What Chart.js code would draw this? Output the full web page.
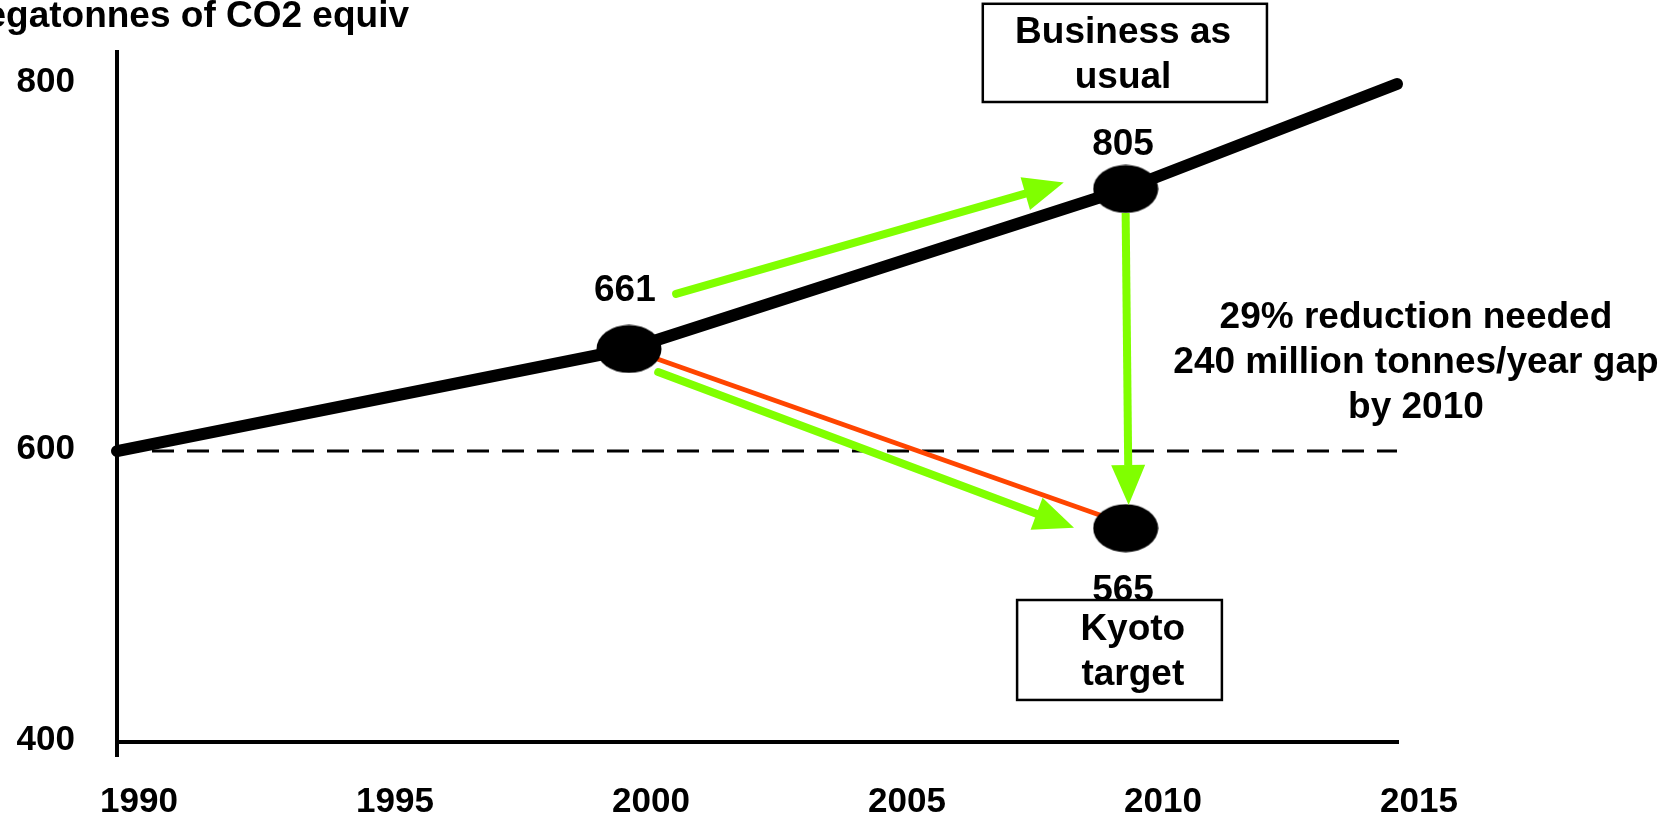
<!DOCTYPE html>
<html>
<head>
<meta charset="utf-8">
<script src="https://cdn.jsdelivr.net/npm/chart.js@4"></script>
<style>
  html, body { margin: 0; padding: 0; background: #fff; }
  #wrap { width: 1664px; height: 815px; position: relative; }
</style>
</head>
<body>
<div id="wrap"><canvas id="chart1"></canvas></div>
<script>
// values (x = year, y = megatonnes on the drawn axis)
var bauYears = [1990, 2000, 2009.7, 2015];
var bauValues = [600, 655.6, 742.8, 800];
var refYears = [1990, 2015];
var refValues = [600, 600];
var dotYears = [2000, 2009.7, 2009.7];
var dotValues = [655.6, 742.8, 547];
var kyotoYears = [2000, 2009.47];
var kyotoValues = [655.6, 552.6];
// green arrows: start point and base of the head
var upArrowYears = [2000.92, 2007.74];
var upArrowValues = [685.6, 740.3];
var downArrowYears = [2000.57, 2007.96];
var downArrowValues = [643, 556.9];
var gapArrowYears = [2009.7, 2009.75];
var gapArrowValues = [729.7, 590.4];
// callout numbers next to the dots
var calloutLabels = ['661', '805', '565'];
var calloutYears = [1999.92, 2009.65, 2009.65];
var calloutValues = [687.2, 766.8, 504];
var xTicks = [1990, 1995, 2000, 2005, 2010, 2015];
var yTicks = [400, 600, 800];
var yTitle = 'Megatonnes of CO2 equiv';
var gapText = ['29% reduction needed', '240 million tonnes/year gap', 'by 2010'];

// the drawn y axis is not evenly spaced: 400-600 is shorter than 600-800
var yStops = [
  { value: 400, at: 0 },
  { value: 600, at: 0.4217 },
  { value: 800, at: 0.9536 },
  { value: 817.4, at: 1 }
];

class SteppedLinearScale extends Chart.LinearScale {
  getPixelForValue(value) {
    var i = 0;
    while (i < yStops.length - 2 && value > yStops[i + 1].value) i++;
    var a = yStops[i], b = yStops[i + 1];
    return this.getPixelForDecimal(a.at + (value - a.value) / (b.value - a.value) * (b.at - a.at));
  }
  getValueForPixel(pixel) {
    var dec = this.getDecimalForPixel(pixel);
    var i = 0;
    while (i < yStops.length - 2 && dec > yStops[i + 1].at) i++;
    var a = yStops[i], b = yStops[i + 1];
    return a.value + (dec - a.at) / (b.at - a.at) * (b.value - a.value);
  }
}
SteppedLinearScale.id = 'steppedLinear';
SteppedLinearScale.defaults = Chart.LinearScale.defaults;
Chart.register(SteppedLinearScale);

var FONT = '"Liberation Sans", Arial, sans-serif';
var GREEN = 'rgb(128,255,0)';
var RED = 'rgb(255,69,0)';

function pts(xs, ys) {
  return xs.map(function (x, i) { return { x: x, y: ys[i] }; });
}

// black ellipse used as the point marker
var dot = document.createElement('canvas');
dot.width = 66; dot.height = 49;
(function () {
  var c = dot.getContext('2d');
  c.fillStyle = '#000';
  c.beginPath();
  c.ellipse(33, 24.5, 32.5, 24, 0, 0, Math.PI * 2);
  c.fill();
})();

var arrowHeads = {
  id: 'arrowHeads',
  afterDatasetsDraw: function (chart) {
    var ctx = chart.ctx;
    chart.data.datasets.forEach(function (ds, i) {
      if (!ds.arrow) return;
      var el = chart.getDatasetMeta(i).data;
      var a = el[el.length - 2], b = el[el.length - 1];
      var ang = Math.atan2(b.y - a.y, b.x - a.x);
      var len = 40, half = 17;
      ctx.save();
      ctx.translate(b.x, b.y);
      ctx.rotate(ang);
      ctx.fillStyle = ds.borderColor;
      ctx.beginPath();
      ctx.moveTo(len, 0);
      ctx.lineTo(0, -half);
      ctx.lineTo(0, half);
      ctx.closePath();
      ctx.fill();
      ctx.restore();
    });
  }
};

var notes = {
  id: 'notes',
  afterDraw: function (chart) {
    var ctx = chart.ctx, xs = chart.scales.x, ys = chart.scales.y;
    var lh = 45;
    ctx.save();
    ctx.font = 'bold 37px ' + FONT;
    ctx.fillStyle = '#000';

    // axis title, clipped by the left edge as in the original
    ctx.textAlign = 'right';
    ctx.textBaseline = 'alphabetic';
    ctx.fillText(yTitle, 409, 27);
    ctx.textBaseline = 'middle';
    ctx.textAlign = 'center';

    calloutLabels.forEach(function (t, i) {
      ctx.fillText(t, xs.getPixelForValue(calloutYears[i]), ys.getPixelForValue(calloutValues[i]));
    });

    function box(x0, x1, y0, y1, tx, lines) {
      var l = xs.getPixelForValue(x0), r = xs.getPixelForValue(x1);
      var t = ys.getPixelForValue(y0), b = ys.getPixelForValue(y1);
      ctx.fillStyle = '#fff';
      ctx.fillRect(l, t, r - l, b - t);
      ctx.strokeStyle = '#000';
      ctx.lineWidth = 2.5;
      ctx.strokeRect(l, t, r - l, b - t);
      ctx.fillStyle = '#000';
      var cx = xs.getPixelForValue(tx), cy = (t + b) / 2 + 2;
      lines.forEach(function (s, k) {
        ctx.fillText(s, cx, cy + (k - (lines.length - 1) / 2) * lh);
      });
    }
    box(2006.91, 2012.46, 843.6, 790.2, 2009.65, ['Business as', 'usual']);
    box(2007.58, 2011.58, 497.6, 428.9, 2009.84, ['Kyoto', 'target']);

    var gx = xs.getPixelForValue(2015.37), gy = ys.getPixelForValue(672.5);
    gapText.forEach(function (s, k) {
      ctx.fillText(s, gx, gy + k * lh);
    });
    ctx.restore();
  }
};

var ctx = document.getElementById('chart1').getContext('2d');
new Chart(ctx, {
  type: 'scatter',
  data: {
    datasets: [
      {
        data: pts(dotYears, dotValues),
        showLine: false,
        pointStyle: dot,
        pointRadius: 30,
        clip: false
      },
      {
        data: pts(upArrowYears, upArrowValues),
        showLine: true, arrow: true,
        borderColor: GREEN, borderWidth: 8, borderCapStyle: 'round',
        pointRadius: 0, clip: false
      },
      {
        data: pts(downArrowYears, downArrowValues),
        showLine: true, arrow: true,
        borderColor: GREEN, borderWidth: 8, borderCapStyle: 'round',
        pointRadius: 0, clip: false
      },
      {
        data: pts(gapArrowYears, gapArrowValues),
        showLine: true, arrow: true,
        borderColor: GREEN, borderWidth: 8,
        pointRadius: 0, clip: false
      },
      {
        data: pts(kyotoYears, kyotoValues),
        showLine: true,
        borderColor: RED, borderWidth: 5,
        pointRadius: 0, clip: false
      },
      {
        data: pts(bauYears, bauValues),
        showLine: true,
        borderColor: '#000', borderWidth: 12,
        borderCapStyle: 'round', borderJoinStyle: 'round',
        pointRadius: 0, clip: false
      },
      {
        data: pts(refYears, refValues),
        showLine: true,
        borderColor: '#000', borderWidth: 3, borderDash: [22, 13],
        pointRadius: 0, clip: false
      }
    ]
  },
  options: {
    responsive: true,
    maintainAspectRatio: false,
    animation: false,
    layout: { autoPadding: false, padding: { left: 0, top: 52, right: 267, bottom: 0 } },
    plugins: { legend: { display: false }, tooltip: { enabled: false } },
    scales: {
      x: {
        type: 'linear',
        min: 1990,
        max: 2015,
        afterBuildTicks: function (s) { s.ticks = xTicks.map(function (v) { return { value: v }; }); },
        afterFit: function (s) { s.height = 73; },
        border: { display: true, color: '#000', width: 4 },
        grid: {
          drawOnChartArea: false,
          drawTicks: true,
          tickLength: 15,
          lineWidth: 4,
          color: function (c) { return c.index === 0 ? '#000' : 'rgba(0,0,0,0)'; }
        },
        ticks: {
          color: '#000',
          padding: 24,
          labelOffset: 22,
          maxRotation: 0,
          font: { family: FONT, size: 35, weight: 'bold' },
          callback: function (v) { return String(v); }
        }
      },
      y: {
        type: 'steppedLinear',
        min: 400,
        max: 817.4,
        afterBuildTicks: function (s) { s.ticks = yTicks.map(function (v) { return { value: v }; }); },
        afterFit: function (s) {
          s.width = 117;
          s.paddingTop = 0;
          s.paddingBottom = 0;
        },
        border: { display: true, color: '#000', width: 4 },
        grid: { display: true, drawOnChartArea: false, drawTicks: false },
        ticks: {
          color: '#000',
          padding: 42,
          labelOffset: -2,
          font: { family: FONT, size: 35, weight: 'bold' },
          callback: function (v) { return String(v); }
        }
      }
    }
  },
  plugins: [arrowHeads, notes]
});
</script>
</body>
</html>
